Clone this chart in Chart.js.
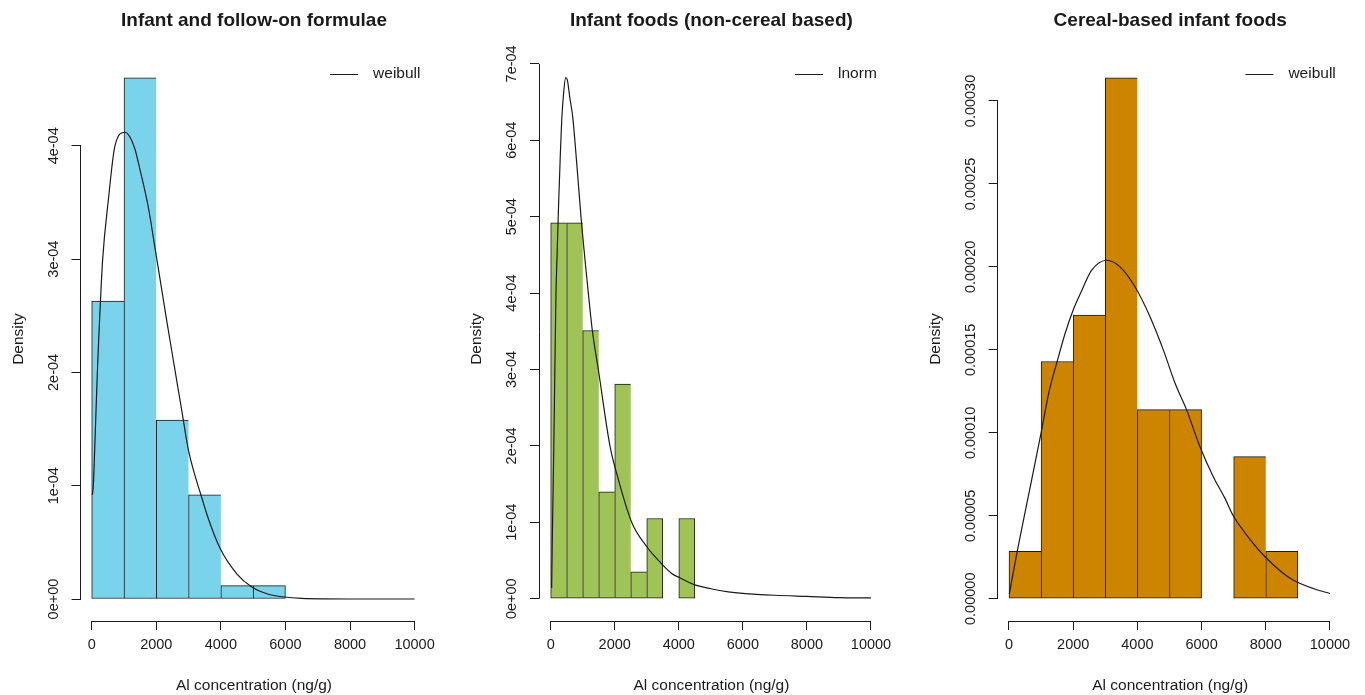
<!DOCTYPE html>
<html>
<head>
<meta charset="utf-8">
<script src="https://cdn.jsdelivr.net/npm/chart.js@4.4.1/dist/chart.umd.min.js"></script>
<style>
  html, body { margin: 0; padding: 0; background: #fff; }
  #wrap { position: relative; width: 1365px; height: 695px; overflow: hidden; }
  #wrap canvas { position: absolute; top: 0; }
</style>
</head>
<body>
<div id="wrap">
  <canvas id="c1" width="455" height="695" style="left:0px"></canvas>
  <canvas id="c2" width="455" height="695" style="left:455px"></canvas>
  <canvas id="c3" width="455" height="695" style="left:910px"></canvas>
</div>
<script>
// shared axis
const xTicks = [0, 2000, 4000, 6000, 8000, 10000];
const xTitle = 'Al concentration (ng/g)';
const yTitle = 'Density';

// panel 1 - infant and follow-on formulae (bins of 1000)
const formulaeTitle = 'Infant and follow-on formulae';
const formulaeBins = [500, 1500, 2500, 3500, 4500, 5500];
const formulaeDensity = [2.63e-4, 4.60e-4, 1.58e-4, 0.92e-4, 0.118e-4, 0.118e-4];
const formulaeFit = 'weibull';
const formulaeCurveX = [20, 50, 120, 175, 215, 340, 515, 720, 1030, 1180, 1340, 1495, 1752, 1960, 2322, 2579, 2786, 2991, 3251, 3360, 3600, 3980, 4500, 4960, 5500, 5900, 6500, 8000, 10000];
const formulaeCurveY = [0.92e-4, 1.0e-4, 1.55e-4, 2.0e-4, 2.28e-4, 3.0e-4, 3.52e-4, 4.0e-4, 4.12e-4, 4.08e-4, 3.97e-4, 3.79e-4, 3.46e-4, 3.1e-4, 2.46e-4, 2.02e-4, 1.67e-4, 1.32e-4, 1.04e-4, 0.94e-4, 0.72e-4, 0.445e-4, 0.22e-4, 0.106e-4, 0.04e-4, 0.02e-4, 0.005e-4, 0, 0];
const formulaeYTicks = [0, 1e-4, 2e-4, 3e-4, 4e-4];
const formulaeYLabels = ['0e+00', '1e-04', '2e-04', '3e-04', '4e-04'];

// panel 2 - infant foods non-cereal (bins of 500)
const nonCerealTitle = 'Infant foods (non-cereal based)';
const nonCerealBins = [250, 750, 1250, 1750, 2250, 2750, 3250, 3750, 4250];
const nonCerealDensity = [4.92e-4, 4.92e-4, 3.51e-4, 1.40e-4, 2.81e-4, 0.35e-4, 1.05e-4, 0, 1.05e-4];
const nonCerealFit = 'lnorm';
const nonCerealCurveX = [30, 50, 94, 130, 165, 200, 250, 300, 343, 400, 468, 519, 600, 687, 780, 862, 946, 1175, 1300, 1487, 1850, 2060, 2528, 3000, 3257, 3777, 4000, 4505, 5000, 5545, 6000, 7000, 8000, 9000, 10000];
const nonCerealCurveY = [0.14e-4, 0.77e-4, 1.9e-4, 3.0e-4, 4.0e-4, 4.5e-4, 5.2e-4, 5.8e-4, 6.25e-4, 6.6e-4, 6.82e-4, 6.79e-4, 6.55e-4, 6.31e-4, 5.87e-4, 5.44e-4, 5.0e-4, 4.0e-4, 3.51e-4, 3.0e-4, 2.0e-4, 1.64e-4, 1.0e-4, 0.68e-4, 0.55e-4, 0.33e-4, 0.28e-4, 0.18e-4, 0.13e-4, 0.09e-4, 0.07e-4, 0.045e-4, 0.03e-4, 0.015e-4, 0.01e-4];
const nonCerealYTicks = [0, 1e-4, 2e-4, 3e-4, 4e-4, 5e-4, 6e-4, 7e-4];
const nonCerealYLabels = ['0e+00', '1e-04', '2e-04', '3e-04', '4e-04', '5e-04', '6e-04', '7e-04'];

// panel 3 - cereal-based infant foods (bins of 1000)
const cerealTitle = 'Cereal-based infant foods';
const cerealBins = [500, 1500, 2500, 3500, 4500, 5500, 6500, 7500, 8500];
const cerealDensity = [0.286e-4, 1.43e-4, 1.71e-4, 3.14e-4, 1.14e-4, 1.14e-4, 0, 0.857e-4, 0.286e-4];
const cerealFit = 'weibull';
const cerealCurveX = [10, 250, 500, 1000, 1250, 1500, 1750, 2000, 2250, 2576, 3044, 3458, 3925, 4393, 4808, 5171, 5536, 5950, 6365, 6729, 6988, 7500, 7975, 8500, 8850, 9500, 10000];
const cerealCurveY = [0.03e-4, 0.28e-4, 0.52e-4, 1.0e-4, 1.25e-4, 1.43e-4, 1.6e-4, 1.74e-4, 1.85e-4, 1.98e-4, 2.04e-4, 2.0e-4, 1.88e-4, 1.70e-4, 1.50e-4, 1.30e-4, 1.137e-4, 0.916e-4, 0.735e-4, 0.605e-4, 0.5e-4, 0.36e-4, 0.253e-4, 0.16e-4, 0.113e-4, 0.06e-4, 0.032e-4];
const cerealYTicks = [0, 0.00005, 0.0001, 0.00015, 0.0002, 0.00025, 0.0003];
const cerealYLabels = ['0.00000', '0.00005', '0.00010', '0.00015', '0.00020', '0.00025', '0.00030'];

const FONT = "'Liberation Sans', Arial, sans-serif";
const INK = '#1a1a1a';

function align(p) { return Math.round(p - 0.5) + 0.5; }

// R-style axes: lines only between first and last tick, rotated y labels
const rAxes = {
  id: 'rAxes',
  afterDraw(chart) {
    const o = chart.options.plugins.rAxes;
    const { ctx, chartArea: a, scales: { x, y } } = chart;
    ctx.save();
    ctx.strokeStyle = INK;
    ctx.fillStyle = INK;
    ctx.lineWidth = 1;

    ctx.beginPath();
    ctx.moveTo(x.getPixelForValue(xTicks[0]), align(a.bottom));
    ctx.lineTo(x.getPixelForValue(xTicks[xTicks.length - 1]), align(a.bottom));
    ctx.moveTo(align(a.left), y.getPixelForValue(o.yTicks[0]));
    ctx.lineTo(align(a.left), y.getPixelForValue(o.yTicks[o.yTicks.length - 1]));
    ctx.stroke();

    ctx.font = '14.5px ' + FONT;
    ctx.textAlign = 'center';
    ctx.textBaseline = 'middle';
    o.yTicks.forEach((v, i) => {
      ctx.save();
      ctx.translate(a.left - 27, y.getPixelForValue(v));
      ctx.rotate(-Math.PI / 2);
      ctx.fillText(o.yLabels[i], 0, 0);
      ctx.restore();
    });

    ctx.font = '15.5px ' + FONT;
    ctx.save();
    ctx.translate(a.left - 62, (a.top + a.bottom) / 2);
    ctx.rotate(-Math.PI / 2);
    ctx.fillText(yTitle, 0, 0);
    ctx.restore();
    ctx.fillText(xTitle, (a.left + a.right) / 2, a.bottom + 65);

    // legend, top right, no box
    const label = chart.data.datasets[0].label;
    const ly = a.top + 17;
    const tw = ctx.measureText(label).width;
    const tx = a.right - 7 - tw;
    ctx.textAlign = 'left';
    ctx.fillText(label, tx, ly);
    ctx.beginPath();
    ctx.moveTo(tx - 43, align(ly));
    ctx.lineTo(tx - 15, align(ly));
    ctx.stroke();
    ctx.restore();
  }
};

function makePanel(id, title, bins, density, fit, cx, cy, yTicks, yLabels, color, box) {
  const bars = bins.map((b, i) => ({ x: b, y: density[i] }));
  const curve = cx.map((v, i) => ({ x: v, y: cy[i] }));
  new Chart(document.getElementById(id), {
    type: 'bar',
    data: {
      datasets: [
        {
          type: 'line',
          label: fit,
          data: curve,
          borderColor: INK,
          borderWidth: 1.2,
          pointRadius: 0,
          cubicInterpolationMode: 'monotone',
          fill: false
        },
        {
          label: 'hist',
          data: bars,
          backgroundColor: color,
          borderColor: INK,
          borderSkipped: false,
          categoryPercentage: 1,
          barPercentage: 1,
          borderWidth: (c) => {
            const d = c.dataset.data;
            const i = c.dataIndex;
            const edge = i === d.length - 1 || !d[i + 1].y;
            return { top: 1, left: 1, bottom: 1, right: edge ? 1 : 0 };
          }
        }
      ]
    },
    options: {
      responsive: false,
      animation: false,
      devicePixelRatio: 1,
      events: [],
      layout: { padding: { left: box.left, right: box.right, top: 0, bottom: 0 } },
      plugins: {
        legend: { display: false },
        tooltip: { enabled: false },
        title: {
          display: true,
          text: title,
          color: INK,
          font: { family: FONT, size: 19, weight: 'bold', lineHeight: 1.2 },
          padding: { top: 9.6, bottom: 24.6 }
        },
        rAxes: { yTicks: yTicks, yLabels: yLabels }
      },
      scales: {
        x: {
          type: 'linear',
          min: box.xMin,
          max: 10400,
          offset: false,
          afterBuildTicks: (s) => { s.ticks = xTicks.map((v) => ({ value: v })); },
          afterFit: (s) => { s.height = 74; },
          ticks: {
            callback: (v) => String(v),
            color: INK,
            font: { family: FONT, size: 14.5 },
            padding: 6,
            maxRotation: 0,
            autoSkip: false
          },
          grid: { display: true, offset: false, drawOnChartArea: false, drawTicks: true, tickLength: 9, color: INK, lineWidth: 1 },
          border: { display: false }
        },
        y: {
          type: 'linear',
          min: box.yMin,
          max: box.yMax,
          afterBuildTicks: (s) => { s.ticks = yTicks.map((v) => ({ value: v })); },
          afterFit: (s) => { s.width = 0; },
          ticks: { display: false },
          grid: { display: true, drawOnChartArea: false, drawTicks: true, tickLength: 9, color: INK, lineWidth: 1 },
          border: { display: false }
        }
      }
    },
    plugins: [rAxes]
  });
}

makePanel('c1', formulaeTitle, formulaeBins, formulaeDensity, formulaeFit, formulaeCurveX, formulaeCurveY,
  formulaeYTicks, formulaeYLabels, '#79D3EA',
  { left: 80.5, right: 27.5, xMin: -347, yMin: -0.194e-4, yMax: 4.784e-4 });

makePanel('c2', nonCerealTitle, nonCerealBins, nonCerealDensity, nonCerealFit, nonCerealCurveX, nonCerealCurveY,
  nonCerealYTicks, nonCerealYLabels, '#9FC455',
  { left: 84, right: 26.2, xMin: -365, yMin: -0.292e-4, yMax: 7.09e-4 });

makePanel('c3', cerealTitle, cerealBins, cerealDensity, cerealFit, cerealCurveX, cerealCurveY,
  cerealYTicks, cerealYLabels, '#CD8500',
  { left: 87.7, right: 22.2, xMin: -352, yMin: -0.134e-4, yMax: 3.265e-4 });
</script>
</body>
</html>
